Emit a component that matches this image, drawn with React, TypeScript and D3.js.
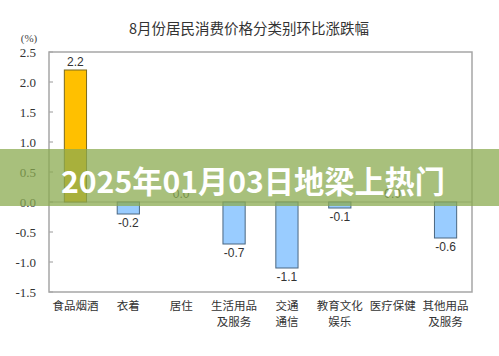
import React from "react";
import * as d3 from "d3";

const categories = ["食品烟酒", "衣着", "居住", "生活用品\n及服务", "交通\n通信", "教育文化\n娱乐", "医疗保健", "其他用品\n及服务"];
const values = [2.2, -0.2, 0.0, -0.7, -1.1, -0.1, 0.0, -0.6];
const yTicks = [2.5, 2.0, 1.5, 1.0, 0.5, 0.0, -0.5, -1.0, -1.5];
const title = "8月份居民消费价格分类别环比涨跌幅";
const unit = "(%)";
const overlayText = "2025年01月03日地梁上热门";

export default function App() {
  const W = 499, H = 356;
  const left = 49, right = 472, top = 52, bottom = 292;
  const x = d3.scaleBand<string>().domain(categories).range([left, right]).paddingInner(0.58).paddingOuter(0.29);
  const y = d3.scaleLinear().domain([-1.5, 2.5]).range([bottom, top]);
  const sans = "'Noto Sans CJK SC', 'Liberation Sans', sans-serif";
  return (
    <svg width={W} height={H} style={{ position: "absolute", left: 0, top: 0 }}>
      <rect x={0} y={0} width={W} height={H} fill="#ffffff" />
      <text x={249} y={34} textAnchor="middle" fontSize={14.5} fill="#333" fontFamily={sans}>{title}</text>
      <text x={29} y={42} textAnchor="middle" fontSize={11} fill="#444" fontFamily="'Liberation Serif', serif">{unit}</text>
      {yTicks.map((t) => (
        <g key={t}>
          <text x={36} y={y(t) + 4.5} textAnchor="end" fontSize={13} fill="#333" fontFamily="'Liberation Serif', serif">{t.toFixed(1)}</text>
          <line x1={left} x2={left + 4} y1={y(t)} y2={y(t)} stroke="#999" strokeWidth={1} />
        </g>
      ))}
      <rect x={left} y={top} width={right - left} height={bottom - top} fill="none" stroke="#a6a6a6" strokeWidth={1.5} />
      <line x1={left} x2={right} y1={y(0)} y2={y(0)} stroke="#a6a6a6" strokeWidth={1} />
      {categories.map((c, i) => {
        const v = values[i];
        const bx = x(c)!;
        const bw = x.bandwidth();
        const y0 = y(Math.max(0, v));
        const h = Math.abs(y(v) - y(0));
        const cx = bx + bw / 2;
        const pos = v > 0;
        const labelY = v > 0 ? y(v) - 4 : v < 0 ? y(v) + 13 : y(0) - 4;
        const lines = c.split("\n");
        return (
          <g key={c}>
            {h > 0 && (
              <rect x={bx} y={y0} width={bw} height={h} fill={pos ? "#FFC000" : "#99CCFF"} stroke={pos ? "#7a6a20" : "#4a6680"} strokeWidth={1} />
            )}
            <text x={cx} y={labelY} textAnchor="middle" fontSize={12} fill="#333" fontFamily="'Liberation Sans', sans-serif">{v.toFixed(1)}</text>
            {lines.map((l, j) => (
              <text key={j} x={cx} y={310 + j * 16} textAnchor="middle" fontSize={11.5} fill="#333" fontFamily={sans}>{l}</text>
            ))}
          </g>
        );
      })}
      <rect x={0} y={149} width={W} height={57} fill="rgb(139,171,80)" fillOpacity={0.75} />
      <text x={61} y={193} fontSize={30.2} fontWeight={700} fill="#ffffff" fontFamily={sans}>{overlayText}</text>
    </svg>
  );
}
